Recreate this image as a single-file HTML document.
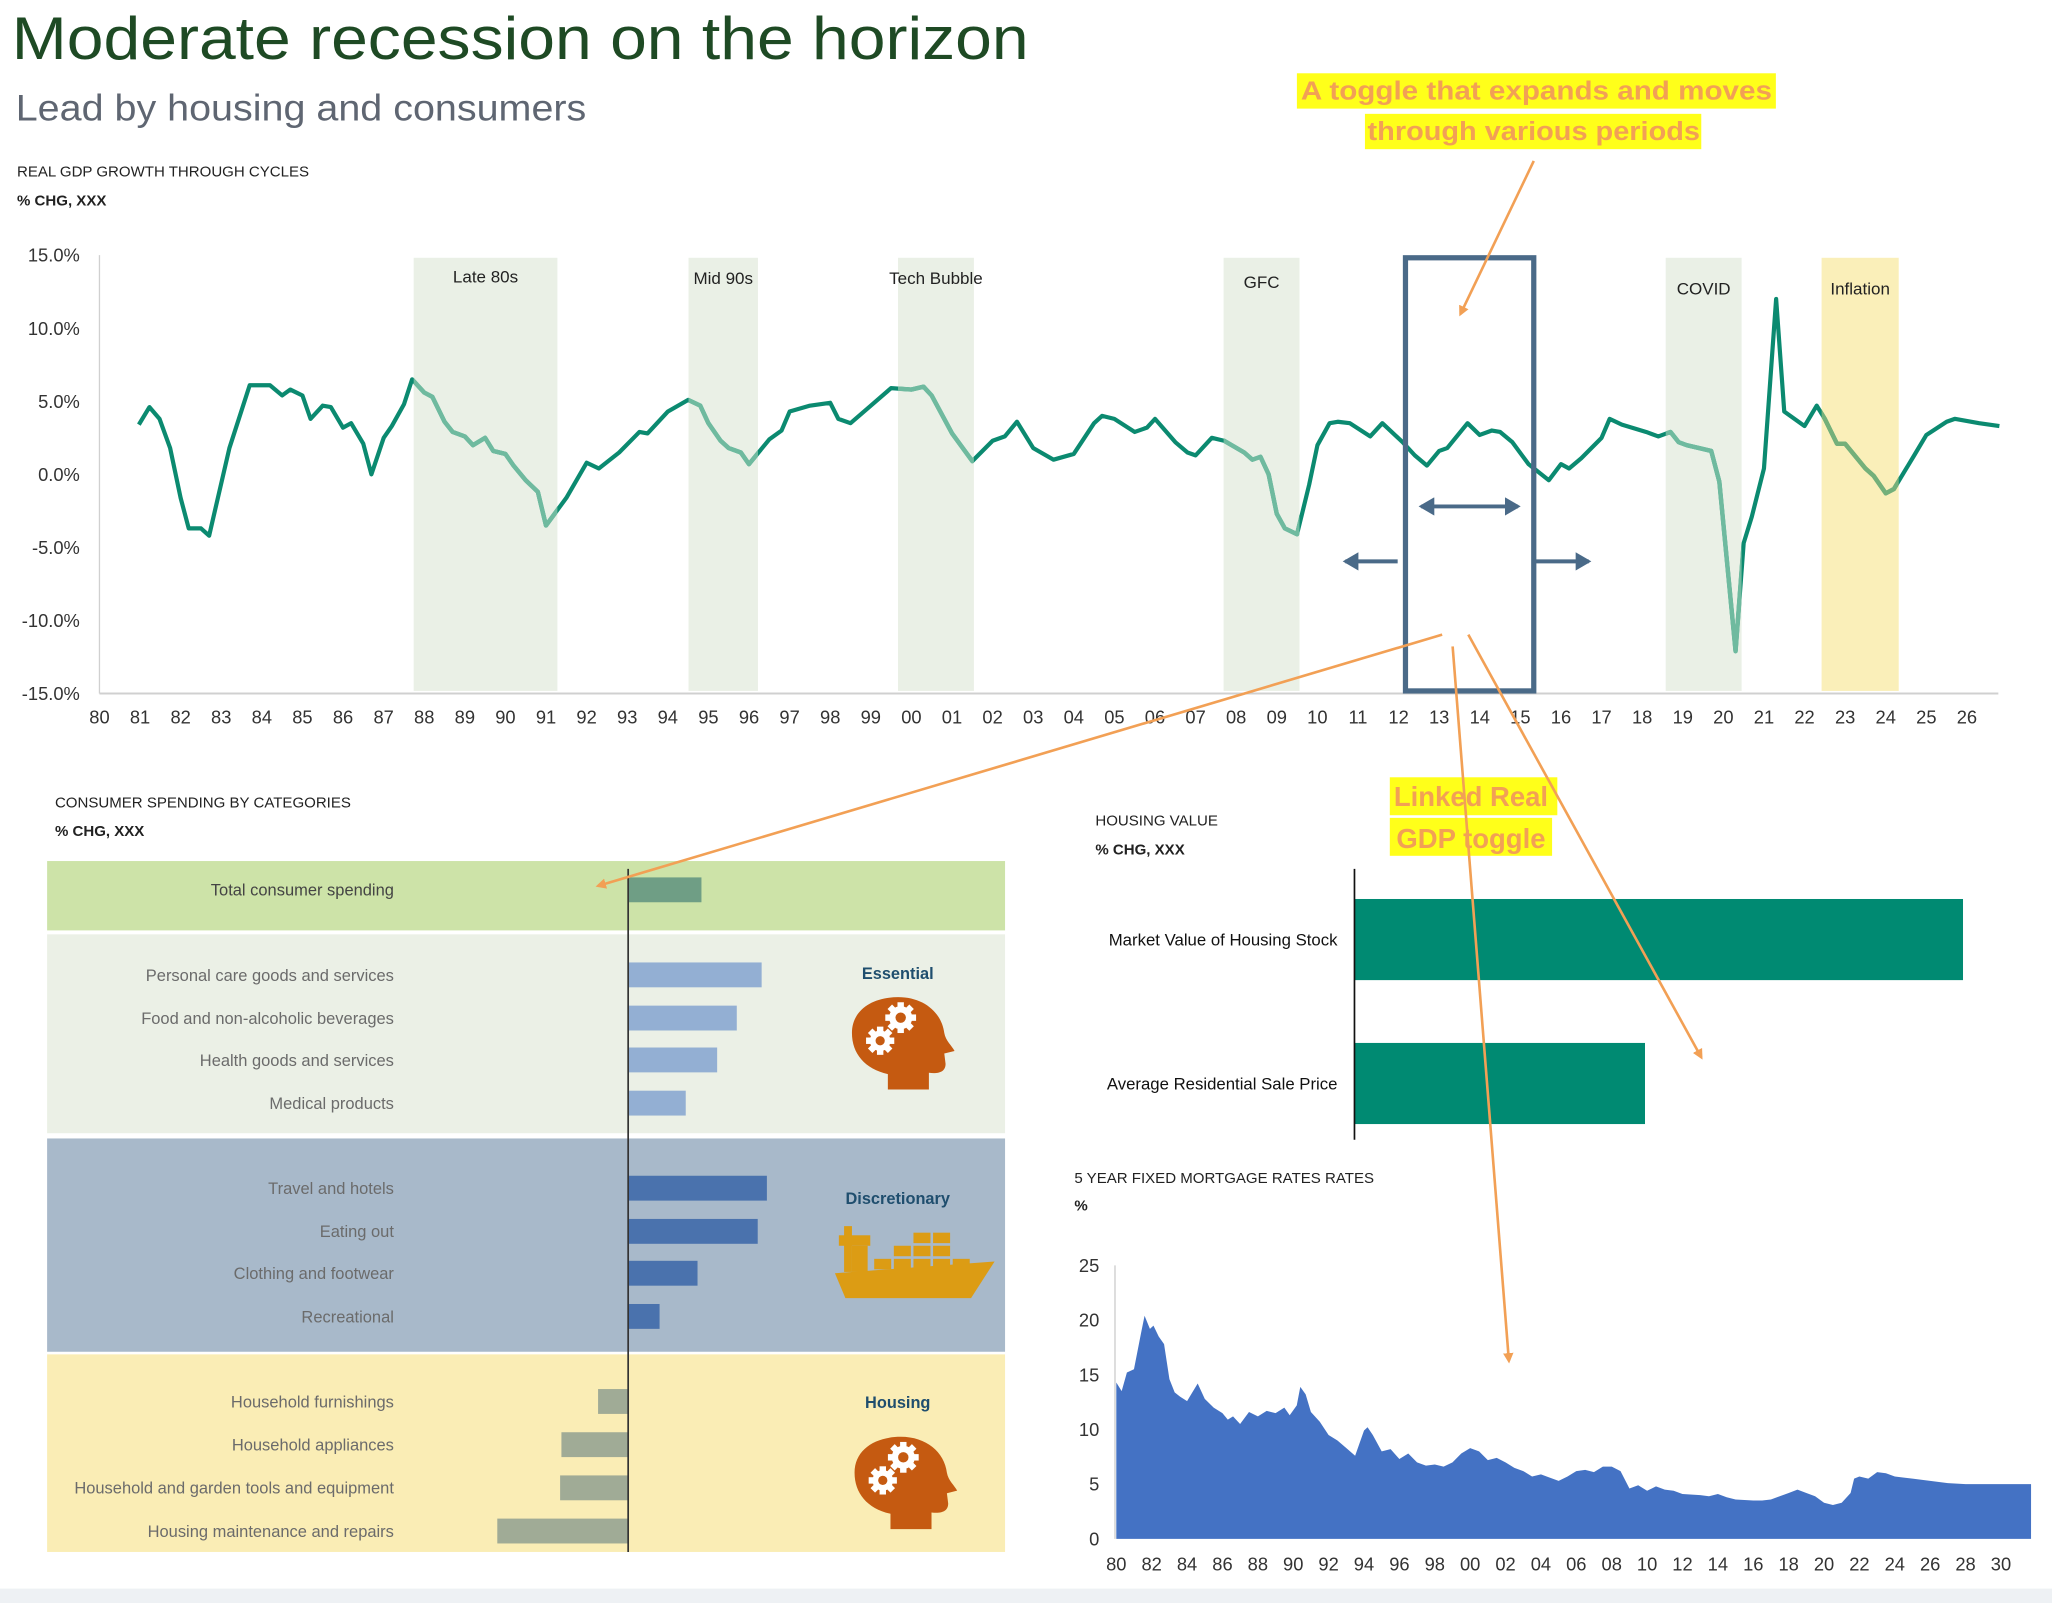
<!DOCTYPE html>
<html><head><meta charset="utf-8">
<style>
html,body{margin:0;padding:0;background:#fff;width:2052px;height:1603px;overflow:hidden}
svg{display:block;font-family:"Liberation Sans",sans-serif}
</style></head>
<body>
<svg id="page" width="2052" height="1603" viewBox="0 0 1568 1225" preserveAspectRatio="none" xmlns="http://www.w3.org/2000/svg">
<defs>
<marker id="oarr" markerWidth="8" markerHeight="8" refX="6" refY="4" orient="auto" markerUnits="userSpaceOnUse"><path d="M0,0 L8,4 L0,8 z" fill="#f2a055"/></marker>
<marker id="barr" markerWidth="14" markerHeight="14" refX="10" refY="7" orient="auto" markerUnits="userSpaceOnUse"><path d="M0,0 L12,7 L0,14 z" fill="#4a6a88"/></marker>
<marker id="barrs" markerWidth="14" markerHeight="14" refX="2" refY="7" orient="auto" markerUnits="userSpaceOnUse"><path d="M12,0 L0,7 L12,14 z" fill="#4a6a88"/></marker>
</defs>
<rect x="0" y="1214" width="1568" height="11" fill="#eef1f4"/>
<text x="9" y="45" font-size="46" fill="#1e4a24" textLength="777" lengthAdjust="spacingAndGlyphs">Moderate recession on the horizon</text>
<text x="12" y="92" font-size="28" fill="#5f6672" textLength="436" lengthAdjust="spacingAndGlyphs">Lead by housing and consumers</text>
<text x="13" y="135" font-size="11.5" fill="#222">REAL GDP GROWTH THROUGH CYCLES</text>
<text x="13" y="157" font-size="11.5" font-weight="bold" fill="#222">% CHG, XXX</text>
<g id="gdp"></g>
<text x="42" y="617" font-size="11.5" fill="#222">CONSUMER SPENDING BY CATEGORIES</text>
<text x="42" y="639" font-size="11.5" font-weight="bold" fill="#222">% CHG, XXX</text>
<g id="cons"></g>
<text x="837" y="631" font-size="11.5" fill="#222">HOUSING VALUE</text>
<text x="837" y="653" font-size="11.5" font-weight="bold" fill="#222">% CHG, XXX</text>
<g id="hous"></g>
<text x="821" y="904" font-size="11.5" fill="#222">5 YEAR FIXED MORTGAGE RATES RATES</text>
<text x="821" y="925" font-size="11.5" font-weight="bold" fill="#222">%</text>
<g id="mort"></g>
<g id="anno">
<rect x="991" y="56" width="366" height="27" fill="#ffff1a"/>
<rect x="1043" y="87" width="257" height="27" fill="#ffff1a"/>
<text x="1174" y="76" font-size="20" font-weight="bold" fill="#f2a055" text-anchor="middle" textLength="360" lengthAdjust="spacingAndGlyphs">A toggle that expands and moves</text>
<text x="1172" y="107" font-size="20" font-weight="bold" fill="#f2a055" text-anchor="middle" textLength="254" lengthAdjust="spacingAndGlyphs">through various periods</text>
<rect x="1062" y="594" width="128" height="29" fill="#ffff1a"/>
<rect x="1062" y="625" width="124" height="29" fill="#ffff1a"/>
<text x="1124" y="616" font-size="21" font-weight="bold" fill="#f2a055" text-anchor="middle">Linked Real</text>
<text x="1124" y="648" font-size="21" font-weight="bold" fill="#f2a055" text-anchor="middle">GDP toggle</text>
<line x1="1172" y1="123" x2="1116" y2="240" stroke="#f2a055" stroke-width="2" marker-end="url(#oarr)"/>
<line x1="1102" y1="485" x2="457" y2="677" stroke="#f2a055" stroke-width="2" marker-end="url(#oarr)"/>
<line x1="1110" y1="494" x2="1153" y2="1040" stroke="#f2a055" stroke-width="2" marker-end="url(#oarr)"/>
<line x1="1122" y1="485" x2="1300" y2="808" stroke="#f2a055" stroke-width="2" marker-end="url(#oarr)"/>
</g>
</svg>
<script>
const NS="http://www.w3.org/2000/svg";
function mk(tag,attrs,parent){const e=document.createElementNS(NS,tag);for(const k in attrs)e.setAttribute(k,attrs[k]);parent.appendChild(e);return e;}

// ---------- GDP data ----------
const gdpYears=[1980.97,1981.23,1981.48,1981.74,1982.0,1982.2,1982.5,1982.7,1983.2,1983.7,1984.2,1984.5,1984.7,1985.0,1985.2,1985.5,1985.7,1986.0,1986.2,1986.5,1986.7,1987.0,1987.2,1987.5,1987.7,1988.0,1988.2,1988.5,1988.7,1989.0,1989.2,1989.5,1989.7,1990.0,1990.2,1990.5,1990.8,1991.0,1991.5,1992.0,1992.3,1992.8,1993.3,1993.5,1994.0,1994.5,1994.8,1995.0,1995.3,1995.5,1995.8,1996.0,1996.5,1996.8,1997.0,1997.5,1998.0,1998.2,1998.5,1999.0,1999.5,2000.0,2000.3,2000.5,2001.0,2001.5,2002.0,2002.3,2002.6,2003.0,2003.5,2004.0,2004.5,2004.7,2005.0,2005.5,2005.8,2006.0,2006.5,2006.8,2007.0,2007.4,2007.7,2008.2,2008.4,2008.6,2008.8,2009.0,2009.2,2009.5,2009.8,2010.0,2010.3,2010.5,2010.8,2011.3,2011.6,2012.1,2012.4,2012.7,2013.0,2013.2,2013.7,2014.0,2014.3,2014.5,2014.8,2015.2,2015.7,2016.0,2016.2,2016.5,2017.0,2017.2,2017.5,2018.1,2018.4,2018.7,2018.9,2019.1,2019.4,2019.7,2019.9,2020.3,2020.5,2020.7,2021.0,2021.3,2021.5,2022.0,2022.3,2022.5,2022.8,2023.0,2023.5,2023.7,2024.0,2024.2,2024.7,2025.0,2025.5,2025.7,2026.3,2026.8];
const gdpValues=[3.4,4.6,3.8,1.8,-1.6,-3.7,-3.7,-4.2,1.8,6.1,6.1,5.4,5.8,5.4,3.8,4.7,4.6,3.2,3.5,2.1,0,2.5,3.3,4.8,6.5,5.6,5.3,3.6,2.9,2.6,2.0,2.5,1.6,1.4,0.6,-0.4,-1.2,-3.5,-1.6,0.8,0.4,1.5,2.9,2.8,4.3,5.1,4.7,3.5,2.3,1.8,1.5,0.7,2.4,3.0,4.3,4.7,4.9,3.8,3.5,4.7,5.9,5.8,6.0,5.4,2.8,0.9,2.3,2.6,3.6,1.8,1.0,1.4,3.5,4.0,3.8,2.9,3.2,3.8,2.2,1.5,1.3,2.5,2.3,1.5,1.0,1.2,0,-2.7,-3.7,-4.1,-0.7,2.0,3.5,3.6,3.5,2.6,3.5,2.2,1.3,0.6,1.6,1.8,3.5,2.7,3.0,2.9,2.2,0.7,-0.4,0.7,0.4,1.1,2.5,3.8,3.4,2.9,2.6,2.9,2.2,2.0,1.8,1.6,-0.5,-12.1,-4.7,-2.9,0.4,12.0,4.3,3.3,4.7,3.8,2.1,2.1,0.4,-0.1,-1.3,-1.0,1.3,2.7,3.6,3.8,3.5,3.3];
const gdpYTicks=[15,10,5,0,-5,-10,-15];
const gdpYTickLabels=["15.0%","10.0%","5.0%","0.0%","-5.0%","-10.0%","-15.0%"];
const gdpXTickYears=[1980,1981,1982,1983,1984,1985,1986,1987,1988,1989,1990,1991,1992,1993,1994,1995,1996,1997,1998,1999,2000,2001,2002,2003,2004,2005,2006,2007,2008,2009,2010,2011,2012,2013,2014,2015,2016,2017,2018,2019,2020,2021,2022,2023,2024,2025,2026];
const bandNames=["Late 80s","Mid 90s","Tech Bubble","GFC","COVID","Inflation"];
const bandStart=[1987.74,1994.51,1999.67,2007.69,2018.58,2022.42];
const bandEnd=[1991.28,1996.22,2001.54,2009.56,2020.45,2024.32];
const toggleStart=2012.17, toggleEnd=2015.33;

// ---------- Consumer data ----------
const catLabels=["Total consumer spending","Personal care goods and services","Food and non-alcoholic beverages","Health goods and services","Medical products","Travel and hotels","Eating out","Clothing and footwear","Recreational","Household furnishings","Household appliances","Household and garden tools and equipment","Housing maintenance and repairs"];
const catValues=[2.8,5.1,4.15,3.4,2.2,5.3,4.95,2.65,1.2,-1.15,-2.55,-2.6,-5.0];
const catGroup=[0,1,1,1,1,2,2,2,2,3,3,3,3];
const groupNames=["Total","Essential","Discretionary","Housing"];

// ---------- Housing data ----------
const housingLabels=["Market Value of Housing Stock","Average Residential Sale Price"];
const housingValues=[9.3,4.44];

// ---------- Mortgage data ----------
const mortYears=[1980.0,1980.3,1980.6,1981.0,1981.4,1981.6,1981.9,1982.1,1982.4,1982.7,1983.0,1983.3,1983.6,1984.0,1984.3,1984.6,1985.0,1985.5,1986.0,1986.3,1986.6,1987.0,1987.5,1988.0,1988.5,1989.0,1989.5,1989.8,1990.2,1990.4,1990.7,1991.0,1991.5,1992.0,1992.5,1993.0,1993.5,1994.0,1994.2,1994.5,1995.0,1995.5,1996.0,1996.5,1997.0,1997.5,1998.0,1998.5,1999.0,1999.5,2000.0,2000.5,2001.0,2001.5,2002.0,2002.5,2003.0,2003.5,2004.0,2004.5,2005.0,2005.5,2006.0,2006.5,2007.0,2007.5,2008.0,2008.5,2009.0,2009.5,2010.0,2010.5,2011.0,2011.5,2012.0,2013.0,2013.5,2014.0,2014.5,2015.0,2016.0,2016.5,2017.0,2018.0,2018.5,2019.0,2019.5,2020.0,2020.5,2021.0,2021.5,2021.7,2022.0,2022.5,2023.0,2023.5,2024.0,2025.0,2026.0,2027.0,2028.0,2031.7];
const mortValues=[14.3,13.5,15.2,15.5,18.8,20.4,19.2,19.5,18.5,17.8,14.6,13.4,13.0,12.6,13.4,14.2,12.8,12.0,11.5,10.9,11.2,10.5,11.6,11.2,11.7,11.5,12.0,11.3,12.2,13.9,13.2,11.6,10.7,9.5,9.0,8.3,7.6,9.9,10.2,9.5,8.0,8.2,7.3,7.8,7.0,6.7,6.8,6.6,7.0,7.8,8.3,8.0,7.2,7.4,7.0,6.5,6.2,5.7,5.9,5.6,5.3,5.7,6.2,6.3,6.1,6.6,6.6,6.2,4.6,4.9,4.4,4.8,4.5,4.4,4.1,4.0,3.9,4.1,3.8,3.6,3.5,3.5,3.6,4.2,4.5,4.2,3.9,3.3,3.1,3.3,4.2,5.5,5.7,5.5,6.1,6.0,5.7,5.5,5.3,5.1,5.0,5.0];
const mortYTicks=[25,20,15,10,5,0];
const mortXTickYears=[1980,1982,1984,1986,1988,1990,1992,1994,1996,1998,2000,2002,2004,2006,2008,2010,2012,2014,2016,2018,2020,2022,2024,2026,2028,2030];

function yy(y){return String(y%100).padStart(2,"0");}

// ================= GDP chart =================
(function(){
const g=document.getElementById("gdp");
const x0=76,x1=1503,yr0=1980,yr1=2026;
const X=y=>x0+(y-yr0)*(x1-x0)/(yr1-yr0);
const Y=v=>362.5-v*(335/30);
for(let i=0;i<bandNames.length;i++){
  const r=mk("rect",{x:X(bandStart[i]),y:Y(15)+2,width:X(bandEnd[i])-X(bandStart[i]),height:Y(-15)-Y(15)-4,fill:bandNames[i]==="Inflation"?"#faefb9":"#eaf0e6"},g);
  
  
  const t=mk("text",{x:(X(bandStart[i])+X(bandEnd[i]))/2,y:bandNames[i]==="Late 80s"?216:(bandNames[i]==="GFC"?220:(bandNames[i]==="COVID"||bandNames[i]==="Inflation"?225:217)),"font-size":13,fill:"#222","text-anchor":"middle"},g);
  t.textContent=bandNames[i];
  
  
}
const ya=mk("line",{x1:x0,y1:Y(15),x2:x0,y2:Y(-15),stroke:"#d0d0d0","stroke-width":1},g);


const xa=mk("line",{x1:x0,y1:Y(-15),x2:1527,y2:Y(-15),stroke:"#d0d0d0","stroke-width":1.5},g);


for(let i=0;i<gdpYTicks.length;i++){
  const t=mk("text",{x:61,y:Y(gdpYTicks[i])+5,"font-size":14,fill:"#333","text-anchor":"end"},g);
  t.textContent=gdpYTickLabels[i];
  
  
}
for(const yr of gdpXTickYears){
  const t=mk("text",{x:X(yr),y:553,"font-size":14,fill:"#333","text-anchor":"middle"},g);
  t.textContent=yy(yr);
  
  
}
const d=gdpYears.map((y,i)=>(i?"L":"M")+X(y).toFixed(1)+","+Y(gdpValues[i]).toFixed(1)).join(" ");
const line=mk("path",{d:d,fill:"none",stroke:"#0b8a70","stroke-width":3.2,"stroke-linejoin":"round"},g);


for(let i=0;i<bandNames.length;i++){
  const cp=mk("clipPath",{id:"bc"+i},g);
  mk("rect",{x:X(bandStart[i]),y:0,width:X(bandEnd[i])-X(bandStart[i]),height:600},cp);
  const l=mk("path",{d:d,fill:"none",stroke:bandNames[i]==="Inflation"?"#74b07a":"#6fba9f","stroke-width":3.4,"stroke-linejoin":"round","clip-path":"url(#bc"+i+")"},g);
  
  
}
const tg=mk("rect",{x:X(toggleStart),y:197,width:X(toggleEnd)-X(toggleStart),height:331,fill:"none",stroke:"#4a6a88","stroke-width":4},g);


const a1=mk("line",{x1:1086,y1:387,x2:1160,y2:387,stroke:"#4a6a88","stroke-width":3,"marker-end":"url(#barr)","marker-start":"url(#barrs)"},g);


const a2=mk("line",{x1:1068,y1:429,x2:1028,y2:429,stroke:"#4a6a88","stroke-width":3,"marker-end":"url(#barr)"},g);


const a3=mk("line",{x1:1173,y1:429,x2:1214,y2:429,stroke:"#4a6a88","stroke-width":3,"marker-end":"url(#barr)"},g);


})();

// ================= Consumer spending =================
function gear(h,cx,cy,r){
  for(let k=0;k<8;k++){
    const a=k*Math.PI/4;
    mk("rect",{x:cx-2.5,y:cy-r-3,width:5,height:6,fill:"#fff",transform:`rotate(${k*45} ${cx} ${cy})`},h);
  }
  mk("circle",{cx:cx,cy:cy,r:r,fill:"#fff"},h);
  mk("circle",{cx:cx,cy:cy,r:r*0.45,fill:"#c55a11"},h);
}
function head(g,x,y,s){
  const h=mk("g",{transform:`translate(${x},${y}) scale(${s})`},g);
  mk("path",{d:"M28,72 L28,60 C10,56 0,44 0,28 C0,10 16,0 36,0 C56,0 70,12 72,28 C73,34 78,38 80,42 L72,44 L73,52 C73,58 68,60 60,59 L60,72 Z",fill:"#c55a11"},h);
  gear(h,38,16,9);
  gear(h,22,34,8);
  return h;
}
(function(){
const g=document.getElementById("cons");
const zx=480,scale=20;
const bands=[[658,711,"#cde3a8"],[714,866,"#ebf0e6"],[870,1033,"#a8b9ca"],[1035,1186,"#faedb5"]];
const barColors=["#6f9e85","#93afd3","#4a72ad","#a0ab96"];
const rowY=[680,745,778,810,843,908,941,973,1006,1071,1104,1137,1170];
for(let i=0;i<bands.length;i++){
  const r=mk("rect",{x:36,y:bands[i][0],width:732,height:bands[i][1]-bands[i][0],fill:bands[i][2]},g);
  
  
}
for(let i=0;i<catLabels.length;i++){
  const v=catValues[i],w=Math.abs(v)*scale;
  const b=mk("rect",{x:v>=0?zx:zx-w,y:rowY[i]-9.5,width:w,height:19,fill:barColors[catGroup[i]]},g);
  
  
  const t=mk("text",{x:301,y:rowY[i]+4.5,"font-size":12.6,fill:i===0?"#444":"#6b6b6b","text-anchor":"end"},g);
  t.textContent=catLabels[i];
  
  
}
const ax=mk("line",{x1:zx,y1:664,x2:zx,y2:1186,stroke:"#333","stroke-width":1.3},g);


const gl=[["Essential",748],["Discretionary",920],["Housing",1076]];
for(const [n,y] of gl){
  const t=mk("text",{x:686,y:y,"font-size":12.5,"font-weight":"bold",fill:"#1f4e6e","text-anchor":"middle"},g);
  t.textContent=n;
  
  
}
const h1=head(g,651,762,0.98);


const h2=head(g,653,1098,0.98);


const ship=mk("g",{},g);


mk("path",{d:"M638,973 L760,964 L742,992 L646,992 Z",fill:"#dc9c14"},ship);
mk("rect",{x:645,y:937,width:6,height:35,fill:"#dc9c14"},ship);
mk("rect",{x:641,y:944,width:24,height:8,fill:"#dc9c14"},ship);
mk("rect",{x:651,y:952,width:12,height:20,fill:"#dc9c14"},ship);
const boxes=[[668,962],[683,962],[698,962],[713,962],[683,952],[698,952],[713,952],[698,942],[713,942],[728,962]];
for(const [bx,by] of boxes){mk("rect",{x:bx,y:by,width:13,height:8,fill:"#dc9c14"},ship);}
})();

// ================= Housing value =================
(function(){
const g=document.getElementById("hous");
const zx=1035,scale=50,cy=[718,828];
for(let i=0;i<housingLabels.length;i++){
  const b=mk("rect",{x:zx,y:cy[i]-31,width:housingValues[i]*scale,height:62,fill:"#008a72"},g);
  
  
  const t=mk("text",{x:1022,y:cy[i]+4.5,"font-size":12.8,fill:"#111","text-anchor":"end"},g);
  t.textContent=housingLabels[i];
  
  
}
const ax=mk("line",{x1:zx,y1:664,x2:zx,y2:871,stroke:"#111","stroke-width":1.3},g);


})();

// ================= Mortgage =================
(function(){
const g=document.getElementById("mort");
const X=y=>853+(y-1980)*13.52;
const Y=v=>1176-v*8.36;
const ax=mk("line",{x1:852,y1:Y(25),x2:852,y2:Y(0),stroke:"#ccc","stroke-width":1},g);


for(const v of mortYTicks){
  const t=mk("text",{x:840,y:Y(v)+5,"font-size":14,fill:"#333","text-anchor":"end"},g);
  t.textContent=v;
  
  
}
for(const yr of mortXTickYears){
  const t=mk("text",{x:X(yr),y:1200,"font-size":14,fill:"#333","text-anchor":"middle"},g);
  t.textContent=yy(yr);
  
  
}
let d="M"+X(mortYears[0])+","+Y(0);
for(let i=0;i<mortYears.length;i++)d+=" L"+X(mortYears[i]).toFixed(1)+","+Y(mortValues[i]).toFixed(1);
d+=" L"+X(mortYears[mortYears.length-1])+","+Y(0)+" Z";
const a=mk("path",{d:d,fill:"#4472c4"},g);


})();
</script>
</body></html>
